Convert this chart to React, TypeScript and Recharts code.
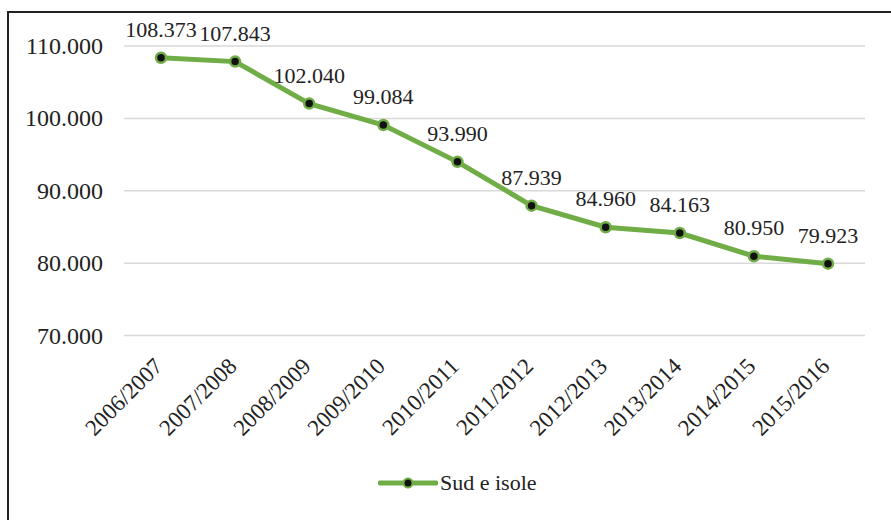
import React from 'react';
import { LineChart, Line, XAxis, YAxis, CartesianGrid, Legend, LabelList } from 'recharts';

const categories = ['2006/2007', '2007/2008', '2008/2009', '2009/2010', '2010/2011', '2011/2012', '2012/2013', '2013/2014', '2014/2015', '2015/2016'];
const sudEIsole = [108373, 107843, 102040, 99084, 93990, 87939, 84960, 84163, 80950, 79923];
const yTicks = [70000, 80000, 90000, 100000, 110000];
const seriesName = 'Sud e isole';

const data = categories.map((c, i) => ({ name: c, value: sudEIsole[i] }));

const FONT = '"Liberation Serif", "Times New Roman", serif';
const GREEN = '#70AD47';
const fmt = (v: number) => (v / 1000).toFixed(3);

const XTick = (props: any) => {
  const { x, y, payload } = props;
  const ax = x + 3;
  const ay = y + 24;
  return (
    <text
      x={ax}
      y={ay}
      transform={`rotate(-45, ${ax}, ${ay})`}
      textAnchor="end"
      fontFamily={FONT}
      fontSize={23}
      fill="#222"
    >
      {payload.value}
    </text>
  );
};

const YTick = (props: any) => {
  const { x, y, payload } = props;
  return (
    <text x={x} y={y + 8} textAnchor="end" fontFamily={FONT} fontSize={24} fill="#222">
      {fmt(payload.value)}
    </text>
  );
};

const DataLabel = (props: any) => {
  const { x, y, value } = props;
  return (
    <text x={x} y={y - 21} textAnchor="middle" fontFamily={FONT} fontSize={22} fill="#222">
      {fmt(value)}
    </text>
  );
};

const LegendContent = () => (
  <div style={{ display: 'flex', alignItems: 'center', fontFamily: FONT, fontSize: 22, color: '#222' }}>
    <svg width={60} height={14} style={{ marginRight: 2 }}>
      <line x1={2} y1={7} x2={58} y2={7} stroke={GREEN} strokeWidth={5} strokeLinecap="round" />
      <circle cx={30} cy={7} r={4.5} fill="#111" stroke={GREEN} strokeWidth={2} />
    </svg>
    <span>{seriesName}</span>
  </div>
);

export default function App() {
  return (
    <div style={{ position: 'absolute', left: 0, top: 0, width: 891, height: 520, overflow: 'hidden', background: '#fff' }}>
      <div
        style={{
          position: 'absolute',
          left: 7,
          top: 11,
          width: 950,
          height: 600,
          border: '2px solid #222',
          boxSizing: 'border-box',
        }}
      />
      <div style={{ position: 'absolute', left: 0, top: 0 }}>
        <LineChart width={891} height={520} data={data} margin={{ top: 46, right: 26, left: 24, bottom: 0 }}>
          <CartesianGrid vertical={false} stroke="#d9d9d9" strokeWidth={1.5} />
          <XAxis
            dataKey="name"
            height={184.5}
            axisLine={false}
            tickLine={false}
            interval={0}
            padding={{ left: 37, right: 37 }}
            tick={<XTick />}
          />
          <YAxis
            domain={[70000, 110000]}
            ticks={yTicks}
            width={100}
            axisLine={false}
            tickLine={false}
            tick={<YTick />}
            tickMargin={15}
          />
          <Legend
            layout="horizontal"
            verticalAlign="middle"
            align="center"
            content={<LegendContent />}
            wrapperStyle={{ left: 378, top: 470, width: 200, height: 30 }}
          />
          <Line
            type="linear"
            dataKey="value"
            name={seriesName}
            stroke={GREEN}
            strokeWidth={5}
            dot={{ r: 5, fill: '#111', stroke: GREEN, strokeWidth: 2.5 }}
            isAnimationActive={false}
          >
            <LabelList dataKey="value" content={<DataLabel />} />
          </Line>
        </LineChart>
      </div>
    </div>
  );
}
